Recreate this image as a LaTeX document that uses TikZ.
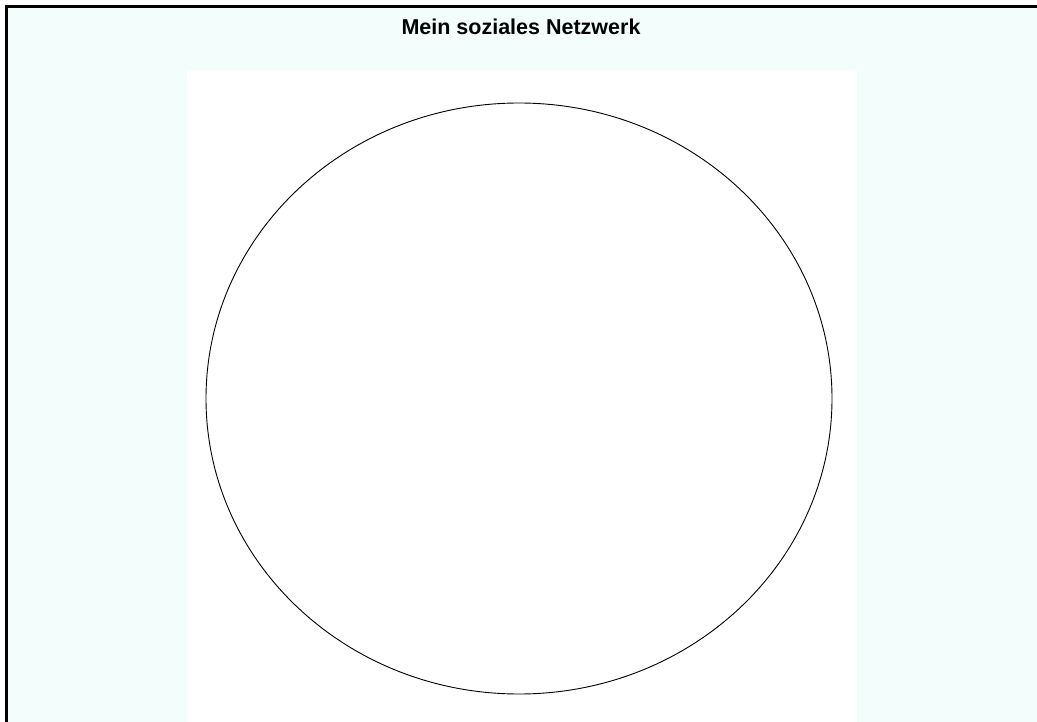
\documentclass[tikz,border=0pt]{standalone}
\usepackage{fontspec}
\setmainfont{Liberation Sans}
\usetikzlibrary{shapes.geometric}
\definecolor{hellblau}{RGB}{243,253,252}

\begin{document}
\begin{tikzpicture}[x=1pt, y=-1pt, every node/.style={font=\fontsize{21.5}{26}\selectfont\bfseries}]
  \useasboundingbox (0,0) rectangle (1037,722);

  % background
  \fill[white] (0,0) rectangle (1037,722);
  \fill[hellblau] (6.5,7) rectangle (1037,722);

  % drawing area
  \fill[white] (187,70) rectangle (857,722);

  % frame
  \draw[line width=3pt] (6.5,722) -- (6.5,7) -- (1037,7);

  % title
  \node[anchor=base] (titel) at (521,34.3) {Mein soziales Netzwerk};

  % network circle
  \node[draw, ellipse, line width=0.9pt, inner sep=0pt,
        minimum width=626, minimum height=591] (netz) at (519,398.5) {};
\end{tikzpicture}
\end{document}
